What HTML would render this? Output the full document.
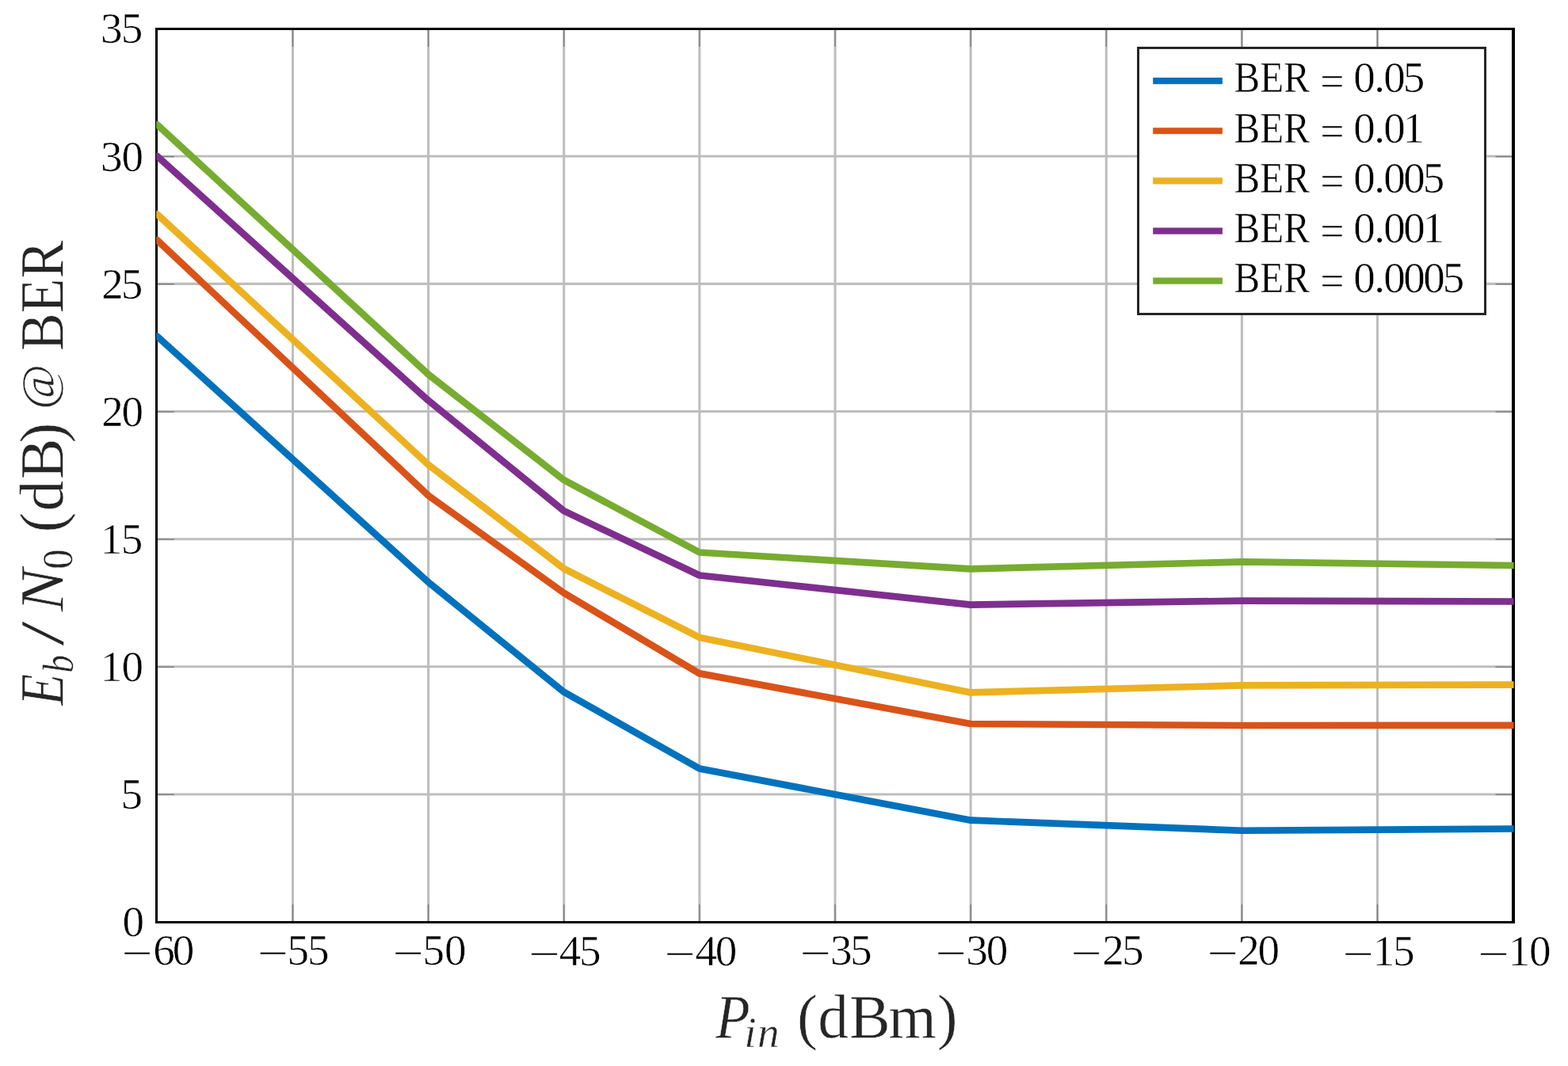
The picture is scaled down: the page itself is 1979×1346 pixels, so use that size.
<!DOCTYPE html>
<html><head><meta charset="utf-8"><title>Eb/N0 (dB) @ BER vs Pin (dBm)</title>
<style>
html,body{margin:0;padding:0;background:#fff;overflow:hidden;}
svg{display:block;}
text{font-family:"Liberation Serif",serif;stroke:#fff;stroke-width:0.55px;}
</style></head><body>
<svg width="1979" height="1346" viewBox="0 0 1979 1346">
<rect x="0" y="0" width="1979" height="1346" fill="#fff"/>
<defs><clipPath id="ax"><rect x="197.2" y="36.5" width="1713.5" height="1128.0"/></clipPath></defs>
<path d="M369.5 36.5V1164.5M540.62 36.5V1164.5M711.75 36.5V1164.5M882.88 36.5V1164.5M1054 36.5V1164.5M1225.12 36.5V1164.5M1396.25 36.5V1164.5M1567.38 36.5V1164.5M1738.5 36.5V1164.5M197.5 1002.96H1910.0M197.5 841.82H1910.0M197.5 680.68H1910.0M197.5 519.54H1910.0M197.5 358.4H1910.0M197.5 197.26H1910.0" stroke="#bebebe" stroke-width="3.1" fill="none"/>
<path d="M369.5 38.0v21M369.5 1163.0v-21M540.62 38.0v21M540.62 1163.0v-21M711.75 38.0v21M711.75 1163.0v-21M882.88 38.0v21M882.88 1163.0v-21M1054 38.0v21M1054 1163.0v-21M1225.12 38.0v21M1225.12 1163.0v-21M1396.25 38.0v21M1396.25 1163.0v-21M1567.38 38.0v21M1567.38 1163.0v-21M1738.5 38.0v21M1738.5 1163.0v-21M199.0 1003.36h21M1908.5 1003.36h-21M199.0 842.22h21M1908.5 842.22h-21M199.0 681.08h21M1908.5 681.08h-21M199.0 519.94h21M1908.5 519.94h-21M199.0 358.8h21M1908.5 358.8h-21M199.0 197.66h21M1908.5 197.66h-21" stroke="#808080" stroke-width="1.5" fill="none"/>
<path d="M196 35H1912V38H196ZM196 1163H1912V1166H196ZM196 35H199V1166H196ZM1908 35H1912V1166H1908Z" fill="#000"/>
<g clip-path="url(#ax)" fill="none" stroke-width="8.7" stroke-linejoin="round" stroke-linecap="round">
<polyline points="198.38,424.7 540.62,735.1 711.75,873.8 882.88,970.5 1225.12,1035.7 1567.38,1048.75 1909.62,1046.5" stroke="#0072BD"/>
<polyline points="198.38,303.2 540.62,625.7 711.75,748.8 882.88,850.4 1225.12,914 1567.38,916 1909.62,915.9" stroke="#D95319"/>
<polyline points="198.38,270.5 540.62,586.7 711.75,718 882.88,804.9 1225.12,874.4 1567.38,865.4 1909.62,864.6" stroke="#EDB120"/>
<polyline points="198.38,197.2 540.62,505.7 711.75,645.1 882.88,726.5 1225.12,763.6 1567.38,758.6 1909.62,759.5" stroke="#7E2F8E"/>
<polyline points="198.38,157.4 540.62,472.7 711.75,606.1 882.88,697.5 1225.12,718.4 1567.38,709.4 1909.62,714" stroke="#77AC30"/>
</g>
<g font-size="55.1">
<text><tspan x="127.05" y="54" letter-spacing="-1.80">35</tspan></text>
<text><tspan x="127.05" y="216.1" letter-spacing="-1.00">30</tspan></text>
<text><tspan x="128.35" y="377.1" letter-spacing="-3.10">25</tspan></text>
<text><tspan x="128.35" y="538.1" letter-spacing="-2.30">20</tspan></text>
<text><tspan x="126.8" y="699.1" letter-spacing="-1.55">15</tspan></text>
<text><tspan x="126.8" y="860.1" letter-spacing="-0.75">10</tspan></text>
<text><tspan x="152.45" y="1021.1">5</tspan></text>
<text><tspan x="154.45" y="1182">0</tspan></text>
<text><tspan x="153.35" y="1222.3" textLength="39.18" lengthAdjust="spacingAndGlyphs">−</tspan><tspan x="193.15" y="1217.9" letter-spacing="-2.90">60</tspan></text>
<text><tspan x="324.45" y="1222.3" textLength="39.18" lengthAdjust="spacingAndGlyphs">−</tspan><tspan x="362.45" y="1217.9" letter-spacing="-2.10">55</tspan></text>
<text><tspan x="495.21" y="1222.3" textLength="39.54" lengthAdjust="spacingAndGlyphs">−</tspan><tspan x="533.55" y="1217.9" letter-spacing="-0.20">50</tspan></text>
<text><tspan x="667.1" y="1223.15" textLength="39.66" lengthAdjust="spacingAndGlyphs">−</tspan><tspan x="705.65" y="1219" letter-spacing="-2.20">45</tspan></text>
<text><tspan x="838.35" y="1223.15" textLength="39.18" lengthAdjust="spacingAndGlyphs">−</tspan><tspan x="877.55" y="1219" letter-spacing="-2.30">40</tspan></text>
<text><tspan x="1009.23" y="1222.3" textLength="39.42" lengthAdjust="spacingAndGlyphs">−</tspan><tspan x="1048.05" y="1217.9" letter-spacing="-2.70">35</tspan></text>
<text><tspan x="1180.35" y="1222.3" textLength="39.18" lengthAdjust="spacingAndGlyphs">−</tspan><tspan x="1219.15" y="1217.9" letter-spacing="-1.90">30</tspan></text>
<text><tspan x="1351.35" y="1222.3" textLength="39.18" lengthAdjust="spacingAndGlyphs">−</tspan><tspan x="1391.25" y="1217.9" letter-spacing="-2.90">25</tspan></text>
<text><tspan x="1523.23" y="1222.3" textLength="39.42" lengthAdjust="spacingAndGlyphs">−</tspan><tspan x="1562.25" y="1217.9" letter-spacing="-2.20">20</tspan></text>
<text><tspan x="1694.23" y="1223.15" textLength="39.42" lengthAdjust="spacingAndGlyphs">−</tspan><tspan x="1732.75" y="1219" letter-spacing="-2.40">15</tspan></text>
<text><tspan x="1865.1" y="1223.15" textLength="39.66" lengthAdjust="spacingAndGlyphs">−</tspan><tspan x="1903.75" y="1219" letter-spacing="-1.40">10</tspan></text>
<rect x="1435" y="59" width="441" height="339" fill="#fff"/>
<path d="M1435 59H1876V62H1435ZM1435 395H1876V398H1435ZM1435 59H1438V398H1435ZM1873 59H1876V398H1873Z" fill="#262626"/>
<line x1="1455.2" y1="102.1" x2="1542.9" y2="102.1" stroke="#0072BD" stroke-width="8.2"/>
<text><tspan x="1557.47" y="116.45" textLength="95.68" lengthAdjust="spacingAndGlyphs">BER</tspan> <tspan x="1666.36" y="120.7" textLength="30.35" lengthAdjust="spacingAndGlyphs">=</tspan> <tspan x="1708.15 1734.35 1746.2 1770.7" y="116.45">0.05</tspan></text>
<line x1="1455.2" y1="165.25" x2="1542.9" y2="165.25" stroke="#D95319" stroke-width="8.2"/>
<text><tspan x="1557.47" y="179.6" textLength="95.68" lengthAdjust="spacingAndGlyphs">BER</tspan> <tspan x="1666.36" y="183.85" textLength="30.35" lengthAdjust="spacingAndGlyphs">=</tspan> <tspan x="1708.15 1734.35 1746.2 1770.5" y="179.6">0.01</tspan></text>
<line x1="1455.2" y1="228.4" x2="1542.9" y2="228.4" stroke="#EDB120" stroke-width="8.2"/>
<text><tspan x="1557.47" y="242.75" textLength="95.68" lengthAdjust="spacingAndGlyphs">BER</tspan> <tspan x="1666.36" y="247" textLength="30.35" lengthAdjust="spacingAndGlyphs">=</tspan> <tspan x="1708.15 1734.35 1746.2 1771.2 1795.7" y="242.75">0.005</tspan></text>
<line x1="1455.2" y1="291.55" x2="1542.9" y2="291.55" stroke="#7E2F8E" stroke-width="8.2"/>
<text><tspan x="1557.47" y="305.9" textLength="95.68" lengthAdjust="spacingAndGlyphs">BER</tspan> <tspan x="1666.36" y="310.15" textLength="30.35" lengthAdjust="spacingAndGlyphs">=</tspan> <tspan x="1708.15 1734.35 1746.2 1771.2 1795.5" y="305.9">0.001</tspan></text>
<line x1="1455.2" y1="354.7" x2="1542.9" y2="354.7" stroke="#77AC30" stroke-width="8.2"/>
<text><tspan x="1557.47" y="369.05" textLength="95.68" lengthAdjust="spacingAndGlyphs">BER</tspan> <tspan x="1666.36" y="373.3" textLength="30.35" lengthAdjust="spacingAndGlyphs">=</tspan> <tspan x="1708.15 1734.35 1746.2 1771.2 1796.2 1820.7" y="369.05">0.0005</tspan></text>
</g>
<g fill="#262626" font-size="77.5">
<text><tspan x="903.27" y="1309.8" font-style="italic" textLength="43.41" lengthAdjust="spacingAndGlyphs">P</tspan><tspan x="939.25 955.95" y="1322.1" font-size="55" font-style="italic">in</tspan> <tspan x="1005.95 1032.2 1072.05 1121.6 1182.75" y="1309.8">(dBm)</tspan></text>
<g transform="translate(78.9 891.8) rotate(-90)"><text><tspan x="0.96" y="0" font-style="italic" textLength="39.79" lengthAdjust="spacingAndGlyphs">E</tspan><tspan x="42.15" y="12.6" font-size="55" font-style="italic" textLength="22.86" lengthAdjust="spacingAndGlyphs">b</tspan> <tspan x="76.1" y="0" textLength="31.65" lengthAdjust="spacingAndGlyphs">/</tspan> <tspan x="119.53" y="0" font-style="italic" textLength="54.28" lengthAdjust="spacingAndGlyphs">N</tspan><tspan x="173.16" y="11.6" font-size="55" textLength="25.38" lengthAdjust="spacingAndGlyphs">0</tspan> <tspan x="219.25 246.25 286.45 332.2" y="0">(dB)</tspan> <tspan x="374.9" y="-10.6" font-size="60.16" textLength="57.24" lengthAdjust="spacingAndGlyphs">@</tspan> <tspan x="448.77" y="0" textLength="139.25" lengthAdjust="spacingAndGlyphs">BER</tspan></text></g>
</g>
</svg>
</body></html>
